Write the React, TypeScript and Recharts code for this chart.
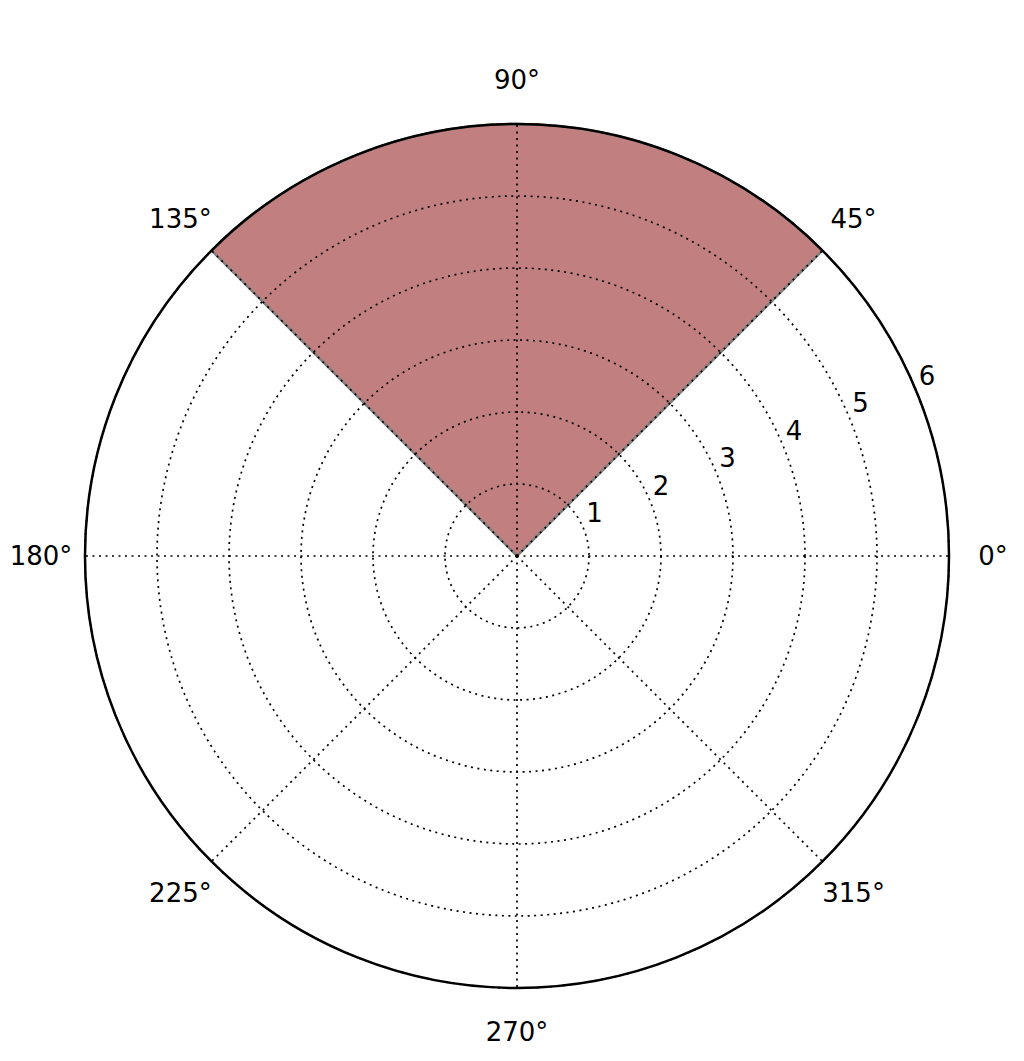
import {
  RadarChart,
  RadialBarChart,
  RadialBar,
  PolarGrid,
  PolarAngleAxis,
  PolarRadiusAxis,
} from 'recharts';

// angle ticks (degrees, counterclockwise from east)
const angleLabels = ['0°', '45°', '90°', '135°', '180°', '225°', '270°', '315°'];
const radiusTicks = [1, 2, 3, 4, 5, 6];

// the single polar bar: starts at 45°, spans 90°
const barNames = ['bar'];
const barStart = [45];
const barSpan = [90];

const W = 1008;
const H = 1045;
const CX = 509;
const CY = 548;
const R = 432;
const FONT = 'DejaVu Sans, sans-serif';

const gridData = angleLabels.map(a => ({ angle: a }));
const barData = barNames.map((name, i) => ({ name, start: barStart[i], span: barSpan[i] }));

function AngleTick(props: any) {
  const { x, y, payload } = props;
  return (
    <text x={x} y={y} textAnchor="middle" dominantBaseline="central" fontSize={26} fontFamily={FONT} fill="#000">
      {payload.value}
    </text>
  );
}

function RadiusTick(props: any) {
  const { x, y, payload } = props;
  return (
    <text x={x + 11} y={y - 15} textAnchor="middle" dominantBaseline="central" fontSize={26} fontFamily={FONT} fill="#000">
      {payload.value}
    </text>
  );
}

export default function App() {
  return (
    <div style={{ position: 'relative', width: W, height: H }}>
      <div style={{ position: 'absolute', left: 0, top: 0 }}>
        <RadialBarChart
          width={W}
          height={H}
          data={barData}
          cx={CX}
          cy={CY}
          innerRadius={0}
          outerRadius={R}
          startAngle={0}
          endAngle={360}
          barCategoryGap={0}
          margin={{ top: 0, right: 0, bottom: 0, left: 0 }}
        >
          <PolarAngleAxis type="number" domain={[0, 360]} tick={false} axisLine={false} tickLine={false} />
          <PolarRadiusAxis type="category" dataKey="name" tick={false} axisLine={false} tickLine={false} />
          <RadialBar dataKey="start" stackId="a" fill="none" stroke="none" isAnimationActive={false} />
          <RadialBar
            dataKey="span"
            stackId="a"
            fill="#c17f7f"
            stroke="#7f7f7f"
            strokeWidth={2.5}
            isAnimationActive={false}
          />
        </RadialBarChart>
      </div>
      <div style={{ position: 'absolute', left: 0, top: 0 }}>
        {/* band offset on a full-circle angle axis shifts ticks back by one step, so start one step later */}
        <RadarChart
          width={W}
          height={H}
          data={gridData}
          cx={CX}
          cy={CY}
          outerRadius={R}
          startAngle={45}
          endAngle={405}
          margin={{ top: 0, right: 0, bottom: 0, left: 0 }}
        >
          <PolarGrid gridType="circle" stroke="#000" strokeWidth={1.7} strokeDasharray="2 4.5" />
          <PolarAngleAxis
            dataKey="angle"
            axisLineType="circle"
            axisLine={{ stroke: '#000', strokeWidth: 2.5, strokeDasharray: '' }}
            tickLine={false}
            tickSize={44}
            tick={<AngleTick />}
          />
          <PolarRadiusAxis
            type="number"
            angle={22.5}
            domain={[0, 6]}
            allowDataOverflow
            ticks={radiusTicks}
            axisLine={false}
            tickLine={false}
            tick={<RadiusTick />}
          />
        </RadarChart>
      </div>
    </div>
  );
}
